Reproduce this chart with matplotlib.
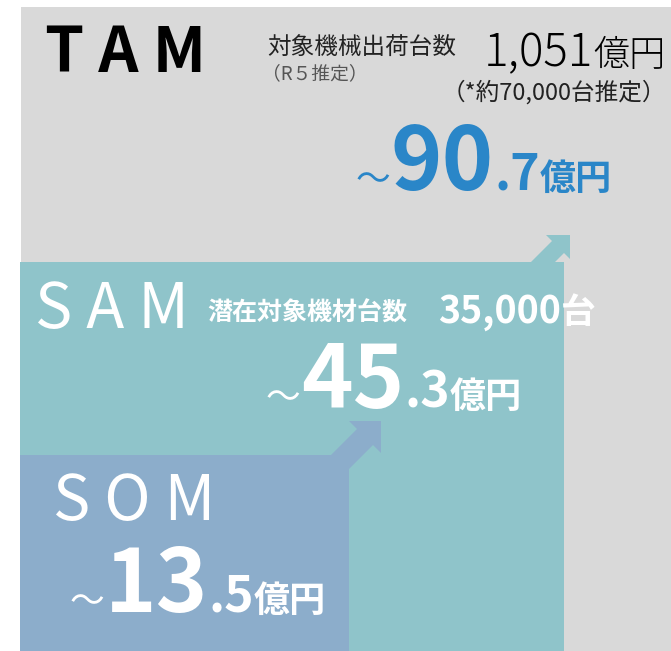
import matplotlib
matplotlib.use("Agg")
import matplotlib.pyplot as plt
from matplotlib.patches import Rectangle, Polygon

# values
levels = ['TAM', 'SAM', 'SOM']
market_oku = [90.7, 45.3, 13.5]          # 億円
tam_desc = '対象機械出荷台数'
tam_note = '（R５推定）'
tam_total = '1,051'
tam_units = '（*約70,000台推定）'
sam_desc = '潜在対象機材台数'
sam_units = '35,000'

gray = '#D9D9D9'
teal = '#8FC4CA'
slate = '#8CADCB'
blue = '#2A86C8'

NARROW = ['Liberation Sans Narrow', 'Noto Sans CJK JP', 'DejaVu Sans']
CJK = ['Noto Sans CJK JP', 'DejaVu Sans']

fig = plt.figure(figsize=(6.71, 6.51), dpi=100)
ax = fig.add_axes([0, 0, 1, 1])
ax.set_xlim(0, 671)
ax.set_ylim(651, 0)
ax.axis('off')
renderer = fig.canvas.get_renderer()


def run(x, y, pieces, color):
    # put text pieces one after the other on one baseline
    for s, size, weight, fam in pieces:
        t = ax.text(x, y, s, fontsize=size, fontweight=weight, family=fam,
                    color=color, ha='left', va='baseline')
        x += t.get_window_extent(renderer).width
    return x


def arrow(tip, head, color):
    # up-right arrow, right angle of the head at the tip
    tx, ty = tip
    a = head / 4.0
    pts = [(tx, ty), (tx, ty + head), (tx - a, ty + head - a),
           (tx - a - 60, ty + head - a + 60), (tx - 3 * a - 60, ty + head - 3 * a + 60),
           (tx - 3 * a, ty + head - 3 * a), (tx - head, ty)]
    ax.add_patch(Polygon(pts, closed=True, color=color, lw=0))


# boxes
ax.add_patch(Rectangle((21, 7), 650, 644, color=gray, lw=0))
arrow((570, 235), 24, teal)
ax.add_patch(Rectangle((20, 262), 544, 389, color=teal, lw=0))
arrow((381, 421), 32, slate)
ax.add_patch(Rectangle((20, 455), 329, 196, color=slate, lw=0))

# TAM
ax.text(45, 72, ' '.join(levels[0]), fontsize=45, fontweight='bold', family=NARROW,
        color='black', va='baseline')
ax.text(267, 55, tam_desc, fontsize=17, family=CJK, color='#222222', va='baseline')
ax.text(262, 79, tam_note, fontsize=13.5, family=CJK, color='#555555', va='baseline')
run(484, 66, [(tam_total, 33, 'light', NARROW), ('億円', 26, 'light', CJK)], 'black')
ax.text(442, 100, tam_units, fontsize=17, family=NARROW, color='#222222', va='baseline')


def value(x, y, v, color):
    whole, dec = ('%.1f' % v).split('.')
    run(x, y, [('～', 25, 'normal', CJK), (whole, 63, 'bold', NARROW),
               ('.' + dec, 36, 'bold', NARROW), ('億円', 26, 'bold', CJK)], color)


value(356, 190, market_oku[0], blue)

# SAM
ax.text(35, 328, ' '.join(levels[1]), fontsize=45, family=NARROW, color='white', va='baseline')
ax.text(207, 321, sam_desc, fontsize=18, fontweight='bold', family=CJK, color='white',
        va='baseline')
run(438, 323, [(sam_units, 27, 'bold', NARROW), ('台', 25, 'bold', CJK)], 'white')
value(266, 408, market_oku[1], 'white')

# SOM
ax.text(53, 520, ' '.join(levels[2]), fontsize=45, family=NARROW, color='white', va='baseline')
value(70, 612, market_oku[2], 'white')

fig.savefig('out.png', dpi=100)
